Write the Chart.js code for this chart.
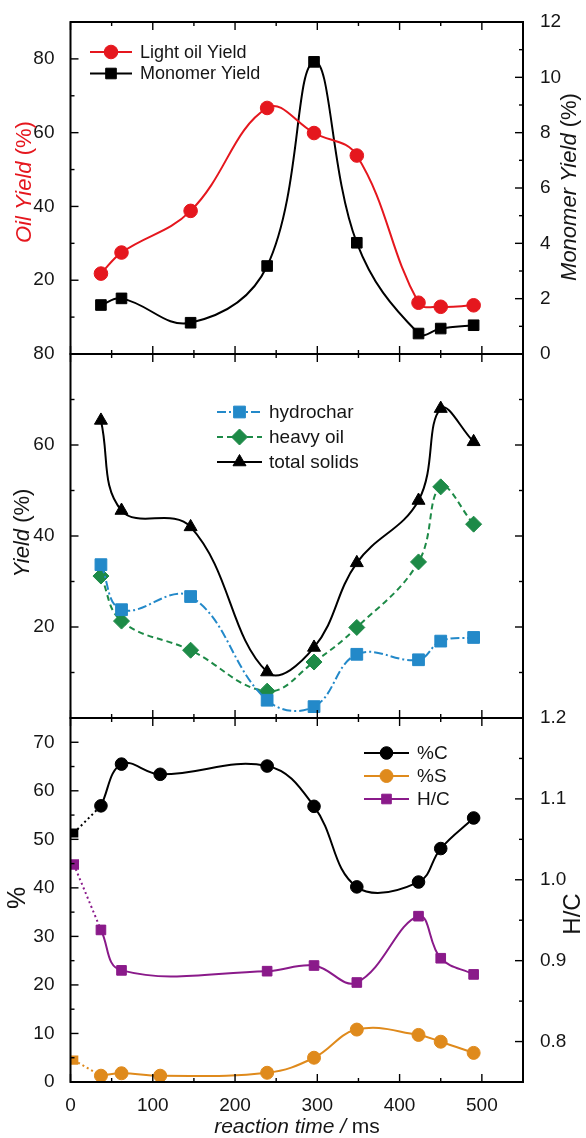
<!DOCTYPE html>
<html><head><meta charset="utf-8">
<script src="https://cdn.jsdelivr.net/npm/chart.js@4.4.1/dist/chart.umd.min.js"></script>
<style>
html,body{margin:0;padding:0;background:#fff;}
#wrap{position:relative;width:586px;height:1138px;background:#fff;}
#wrap canvas{position:absolute;left:0;top:0;}
</style></head><body>
<div id="wrap">
<canvas id="c1" width="586" height="1138"></canvas>
<canvas id="c2" width="586" height="1138"></canvas>
<canvas id="c3" width="586" height="1138"></canvas>
</div>
<script>
// ---------- data ----------
const timeA = [37, 62, 146, 239, 296, 348, 423, 450, 490];      // top & middle panels (ms)
const lightOil = [21.8, 27.5, 38.8, 66.7, 59.9, 53.8, 13.9, 12.8, 13.2];
const monomer = [1.77, 2.01, 1.13, 3.18, 10.56, 4.02, 0.74, 0.92, 1.04];
const hydrochar = [33.7, 23.8, 26.7, 3.9, 2.5, 14.0, 12.8, 16.9, 17.7];
const heavyOil = [31.2, 21.3, 14.9, 5.9, 12.3, 19.9, 34.3, 50.8, 42.6];
const totalSolids = [65.4, 45.6, 42.0, 10.1, 15.5, 34.1, 47.8, 68.0, 60.7];
const timeB = [37, 62, 109, 239, 296, 348, 423, 450, 490];      // bottom panel %C, %S
const carbon = [56.9, 65.5, 63.4, 65.1, 56.8, 40.2, 41.2, 48.1, 54.4];
const sulfur = [1.3, 1.8, 1.3, 1.9, 5.0, 10.8, 9.7, 8.3, 6.0];
const timeHC = [37, 62, 239, 296, 348, 423, 450, 490];
const hcRatio = [0.938, 0.888, 0.887, 0.894, 0.873, 0.955, 0.903, 0.883];
const feedTime = [4];
const feedCarbon = [51.3];
const feedSulfur = [4.5];
const feedHC = [1.019];
const xTickLabels = [0, 100, 200, 300, 400, 500];

const FONT = "'Liberation Sans', Arial, sans-serif";
const INK = '#151515';
const RED = '#e5171e', BLUE = '#2389c9', GREEN = '#1d8a47', ORANGE = '#df8a1c', PURPLE = '#8a1a8a';

Chart.defaults.font.family = FONT;
Chart.defaults.font.size = 19;
Chart.defaults.color = INK;

const pts = (xs, ys) => xs.map((x, i) => ({x, y: ys[i]}));
const feed = (fx, fy, xs, ys) => [{x: fx[0], y: fy[0]}, {x: xs[0], y: ys[0]}];

const W = 586, H = 1138;
const LEFT_W = 70.5, RIGHT_W = 63;

function tickLoop(min, max, minor, major, fn) {
  const start = Math.ceil(min / minor - 1e-9) * minor;
  for (let i = 0; ; i++) {
    const v = start + i * minor;
    if (v > max + 1e-9) break;
    const isMaj = Math.abs(v / major - Math.round(v / major)) < 1e-6;
    fn(v, isMaj);
  }
}

function drawMarker(ctx, style, r, x, y, color) {
  if (Chart.helpers && Chart.helpers.drawPoint) {
    ctx.fillStyle = color; ctx.strokeStyle = color; ctx.lineWidth = 1;
    Chart.helpers.drawPoint(ctx, {pointStyle: style, radius: r, rotation: 0, borderWidth: 1}, x, y);
    return;
  }
  ctx.fillStyle = color;
  ctx.beginPath(); ctx.arc(x, y, r, 0, Math.PI * 2); ctx.fill();
}

function drawRich(ctx, t) {
  ctx.save();
  ctx.translate(t.x, t.y);
  ctx.rotate(t.rot || 0);
  ctx.fillStyle = t.color || INK;
  ctx.textBaseline = 'middle';
  ctx.textAlign = 'left';
  let total = 0;
  t.parts.forEach(p => {
    ctx.font = (p.italic ? 'italic ' : '') + t.size + 'px ' + FONT;
    p.w = ctx.measureText(p.text).width; total += p.w;
  });
  let cx = -total / 2;
  t.parts.forEach(p => {
    ctx.font = (p.italic ? 'italic ' : '') + t.size + 'px ' + FONT;
    ctx.fillText(p.text, cx, 0); cx += p.w;
  });
  ctx.restore();
}

const framePlugin = {
  id: 'frame',
  afterDraw(chart, args, o) {
    const ctx = chart.ctx, a = chart.chartArea;
    ctx.save();
    ctx.strokeStyle = '#000';
    ctx.setLineDash([]);
    const line = (x1, y1, x2, y2) => { ctx.beginPath(); ctx.moveTo(x1, y1); ctx.lineTo(x2, y2); ctx.stroke(); };
    ctx.lineWidth = 1.4;
    const MAJ = 8, MIN = 4;
    const xs = chart.scales.x;
    tickLoop(xs.min, xs.max, o.x[0], o.x[1], (v, m) => {
      const p = xs.getPixelForValue(v), L = m ? MAJ : MIN;
      line(p, a.top, p, a.top + L); line(p, a.bottom, p, a.bottom - L);
    });
    const ls = chart.scales[o.left.id];
    tickLoop(ls.min, ls.max, o.left.minor, o.left.major, (v, m) => {
      const p = ls.getPixelForValue(v), L = m ? MAJ : MIN;
      line(a.left, p, a.left + L, p);
    });
    const rs = chart.scales[o.right.id];
    tickLoop(rs.min, rs.max, o.right.minor, o.right.major, (v, m) => {
      const p = rs.getPixelForValue(v), L = m ? MAJ : MIN;
      line(a.right, p, a.right - L, p);
    });
    ctx.lineWidth = 2;
    ctx.strokeRect(a.left, a.top, a.right - a.left, a.bottom - a.top);

    // legend
    const lg = o.legend;
    const items = chart.data.datasets.filter(d => d.inLegend);
    items.forEach((d, i) => {
      const y = lg.y + i * lg.row;
      ctx.save();
      ctx.strokeStyle = d.borderColor; ctx.lineWidth = d.borderWidth;
      ctx.setLineDash(d.borderDash || []);
      line(lg.x, y, lg.x + lg.len, y);
      ctx.restore();
      drawMarker(ctx, d.pointStyle, d.pointRadius, lg.x + lg.len / 2, y, d.pointBackgroundColor);
      ctx.fillStyle = INK;
      ctx.font = lg.size + 'px ' + FONT;
      ctx.textBaseline = 'middle'; ctx.textAlign = 'left';
      ctx.fillText(d.label, lg.x + lg.len + lg.gap, y + 1);
    });
    (o.titles || []).forEach(t => drawRich(ctx, t));
    ctx.restore();
  }
};

function lineDs(label, data, color, style, r, extra) {
  return Object.assign({
    label, data, borderColor: color, backgroundColor: color,
    pointBackgroundColor: color, pointBorderColor: color, pointBorderWidth: 1,
    pointStyle: style, pointRadius: r, borderWidth: 2, tension: 0.4,
    inLegend: true, yAxisID: 'y'
  }, extra || {});
}
function feedDs(data, color, r, yAxisID) {
  return {
    label: 'feed', data, borderColor: color, backgroundColor: color,
    pointBackgroundColor: color, pointBorderColor: color,
    pointStyle: 'rect', pointRadius: [r, 0], borderWidth: 2, borderDash: [2, 3],
    tension: 0, inLegend: false, yAxisID
  };
}

const xHidden = {
  type: 'linear', min: 0, max: 550,
  grid: {display: false}, border: {display: false},
  ticks: {display: false},
  afterFit: s => { s.height = 0; }
};
function yAxis(pos, min, max, step, cb, show) {
  return {
    type: 'linear', position: pos, min, max,
    grid: {display: false}, border: {display: false},
    ticks: {stepSize: step, padding: pos === 'left' ? 8 : 9, callback: cb, display: show !== false,
            font: {size: 19}, color: INK},
    afterFit: s => { s.width = pos === 'left' ? LEFT_W : RIGHT_W; }
  };
}

function makeChart(id, datasets, scales, padding, frameOpts) {
  return new Chart(document.getElementById(id), {
    type: 'line',
    data: {datasets},
    options: {
      responsive: false, animation: false, devicePixelRatio: 1,
      layout: {padding},
      parsing: true,
      plugins: {legend: {display: false}, tooltip: {enabled: false}, frame: frameOpts},
      scales
    },
    plugins: [framePlugin]
  });
}

const TOP1 = 22, B1 = 354, B2 = 718, B3 = 1082;

// ---------- top panel ----------
makeChart('c1', [
  lineDs('Light oil Yield', pts(timeA, lightOil), RED, 'circle', 6.8),
  lineDs('Monomer Yield', pts(timeA, monomer), '#000', 'rect', 7.5, {yAxisID: 'y2'})
], {
  x: xHidden,
  y: yAxis('left', 0, 90, 20, v => (v > 0 && v <= 80 && v % 20 === 0) ? v : ''),
  y2: yAxis('right', 0, 12, 2, v => v)
}, {top: TOP1, bottom: H - B1, left: 0, right: 0}, {
  x: [50, 100], left: {id: 'y', minor: 10, major: 20}, right: {id: 'y2', minor: 1, major: 2},
  legend: {x: 90, y: 52, row: 21.5, len: 42, gap: 8, size: 18},
  titles: [
    {parts: [{text: 'Oil Yield ', italic: true}, {text: '(%)'}], x: 25, y: 182, rot: -Math.PI / 2, size: 22, color: RED},
    {parts: [{text: 'Monomer Yield ', italic: true}, {text: '(%)'}], x: 570, y: 187, rot: -Math.PI / 2, size: 22}
  ]
});

// ---------- middle panel ----------
makeChart('c2', [
  lineDs('hydrochar', pts(timeA, hydrochar), BLUE, 'rect', 8.3, {borderDash: [9, 3, 2, 3]}),
  lineDs('heavy oil', pts(timeA, heavyOil), GREEN, 'rectRot', 8, {borderDash: [6, 4]}),
  lineDs('total solids', pts(timeA, totalSolids), '#000', 'triangle', 7.5)
], {
  x: xHidden,
  y: yAxis('left', 0, 80, 20, v => (v > 0 && v <= 80) ? v : '')
}, {top: B1, bottom: H - B2, left: 0, right: RIGHT_W}, {
  x: [50, 100], left: {id: 'y', minor: 10, major: 20}, right: {id: 'y', minor: 10, major: 20},
  legend: {x: 217, y: 412, row: 25, len: 45, gap: 7, size: 19},
  titles: [
    {parts: [{text: 'Yield ', italic: true}, {text: '(%)'}], x: 23, y: 533, rot: -Math.PI / 2, size: 22}
  ]
});

// ---------- bottom panel ----------
makeChart('c3', [
  lineDs('%C', pts(timeB, carbon), '#000', 'circle', 6.3),
  lineDs('%S', pts(timeB, sulfur), ORANGE, 'circle', 6.5),
  lineDs('H/C', pts(timeHC, hcRatio), PURPLE, 'rect', 6.8, {yAxisID: 'y2'}),
  feedDs(feed(feedTime, feedCarbon, timeB, carbon), '#000', 5, 'y'),
  feedDs(feed(feedTime, feedSulfur, timeB, sulfur), ORANGE, 5, 'y'),
  feedDs(feed(feedTime, feedHC, timeHC, hcRatio), PURPLE, 6, 'y2')
], {
  x: {
    type: 'linear', min: 0, max: 550,
    grid: {display: false}, border: {display: false},
    afterBuildTicks: s => { s.ticks = xTickLabels.map(v => ({value: v})); },
    ticks: {padding: 4, font: {size: 19}, color: INK, maxRotation: 0, autoSkip: false},
    afterFit: s => { s.height = 40; }
  },
  y: yAxis('left', 0, 75, 10, v => (v % 10 === 0) ? v : ''),
  y2: yAxis('right', 0.75, 1.2, 0.1, v => {
    const k = v * 10; return Math.abs(k - Math.round(k)) < 1e-6 ? v.toFixed(1) : '';
  })
}, {top: B2, bottom: H - B3 - 40, left: 0, right: 0}, {
  x: [50, 100], left: {id: 'y', minor: 5, major: 10}, right: {id: 'y2', minor: 0.05, major: 0.1},
  legend: {x: 364, y: 753, row: 23, len: 45, gap: 8, size: 19},
  titles: [
    {parts: [{text: '%'}], x: 18, y: 898, rot: -Math.PI / 2, size: 25},
    {parts: [{text: 'H/C'}], x: 573, y: 914, rot: -Math.PI / 2, size: 24},
    {parts: [{text: 'reaction time / ', italic: true}, {text: 'ms'}], x: 297, y: 1127, rot: 0, size: 21}
  ]
});
</script>
</body></html>
